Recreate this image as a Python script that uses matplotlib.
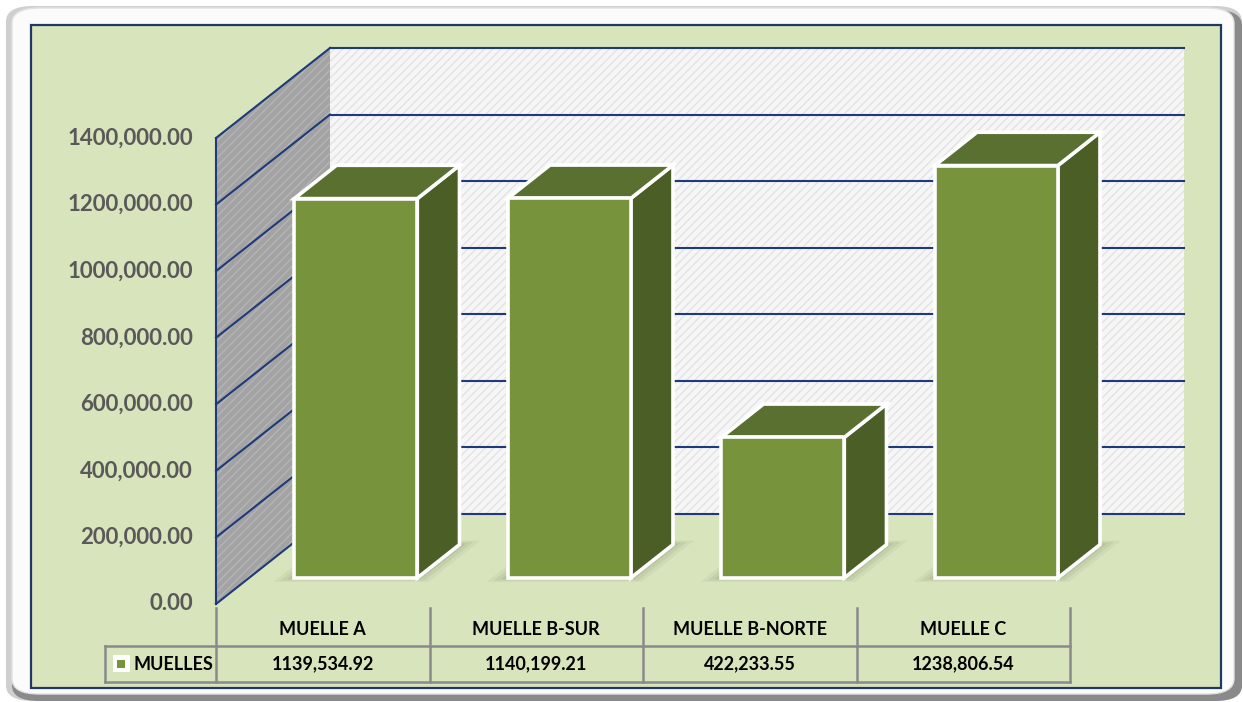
import matplotlib.pyplot as plt
from matplotlib.patches import Polygon, Rectangle, FancyBboxPatch
from matplotlib.transforms import blended_transform_factory

# data
categories = ['MUELLE A', 'MUELLE B-SUR', 'MUELLE B-NORTE', 'MUELLE C']
values = [1139534.92, 1140199.21, 422233.55, 1238806.54]
series_name = 'MUELLES'
yticks = [0, 200000, 400000, 600000, 800000, 1000000, 1200000, 1400000]


def fmt(v):
    # Excel's odd format: only the last thousands group is separated
    if v < 1000:
        return f"{v:.2f}"
    th = int(v) // 1000
    return f"{th},{v - th * 1000:06.2f}"


W, H = 1243, 702
plt.rcParams['font.family'] = ['Lato', 'DejaVu Sans']
fig = plt.figure(figsize=(W / 100, H / 100), dpi=100)
ax = fig.add_axes([0, 0, 1, 1])
ax.axis('off')

# pixel scale of the plot area
x_left_px, cat_px = 216, 213.5
y0_px, top_px = 604, 138
vpp = yticks[-1] / (y0_px - top_px)
ax.set_xlim(-0.5 - x_left_px / cat_px, -0.5 + (W - x_left_px) / cat_px)
ax.set_ylim(-(H - y0_px) * vpp, y0_px * vpp)

# depth offsets (3D look)
DX = 114 / cat_px
DY = 90 * vpp


def P(x, y, z):
    return (x + z * DX, y + z * DY)


def fr(x, y):
    return (x / W, 1 - y / H)


def rbox(x0, y0, x1, y1, **kw):
    ax.add_patch(FancyBboxPatch(fr(x0, y1), (x1 - x0) / W, (y1 - y0) / H,
                                boxstyle='round,pad=0,rounding_size=0.022',
                                transform=ax.transAxes, **kw))


# frame and panel
rbox(6, 6, 1242, 701, fc='#cfcfcf', ec='none', zorder=0)
rbox(12, 10, 1242, 701, fc='#8a8a8a', ec='none', zorder=0.2)
rbox(12, 8, 1234, 694, fc='#fbfbfb', ec='#e2e2e2', lw=1, zorder=0.5)
ax.add_patch(Rectangle(fr(31, 688), (1221 - 31) / W, (688 - 25) / H, transform=ax.transAxes,
                       fc='#d8e4bc', ec='#1f3864', lw=1.6, zorder=1))

n = len(categories)
top = yticks[-1]

# walls
back = Polygon([P(-0.5, 0, 1), P(n - 0.5, 0, 1), P(n - 0.5, top, 1), P(-0.5, top, 1)],
               closed=True, fc='#f6f6f6', ec='#e3e3e3', lw=0, hatch='////', zorder=2)
left = Polygon([P(-0.5, 0, 0), P(-0.5, 0, 1), P(-0.5, top, 1), P(-0.5, top, 0)],
               closed=True, fc='#a3a3a3', ec='#b5b5b5', lw=0, hatch='////', zorder=2)
ax.add_patch(back)
ax.add_patch(left)

grid_c = '#1f3a7a'
for t in yticks:
    (xa, ya), (xb, yb) = P(-0.5, t, 1), P(n - 0.5, t, 1)
    ax.plot([xa, xb], [ya, yb], color=grid_c, lw=1.5, zorder=3)
    (xa, ya), (xb, yb) = P(-0.5, t, 0), P(-0.5, t, 1)
    ax.plot([xa, xb], [ya, yb], color=grid_c, lw=1.5, zorder=3)
    ax.text(-0.5 - 23 / cat_px, t, fmt(t), ha='right', va='center',
            fontsize=16, fontweight='bold', color='#595959', zorder=5)
(xa, ya), (xb, yb) = P(-0.5, 0, 0), P(-0.5, top, 0)
ax.plot([xa, xb], [ya, yb], color=grid_c, lw=1.5, zorder=3)

# bars
hw, z0, z1 = 0.288, 0.29, 0.66
for i, v in enumerate(values):
    # soft shadow on the floor around the footprint
    for e, a in ((0.075, 0.06), (0.05, 0.08), (0.025, 0.1)):
        ez = e * 0.6
        fp = [P(i - hw - e, 0, z0 - ez), P(i + hw + e, 0, z0 - ez),
              P(i + hw + e, 0, z1 + ez), P(i - hw - e, 0, z1 + ez)]
        ax.add_patch(Polygon(fp, closed=True, fc='#4a5540', ec='none', alpha=a, zorder=3.5))
    front = [P(i - hw, 0, z0), P(i + hw, 0, z0), P(i + hw, v, z0), P(i - hw, v, z0)]
    topf = [P(i - hw, v, z0), P(i + hw, v, z0), P(i + hw, v, z1), P(i - hw, v, z1)]
    side = [P(i + hw, 0, z0), P(i + hw, 0, z1), P(i + hw, v, z1), P(i + hw, v, z0)]
    for poly, c in ((side, '#4b5e26'), (topf, '#5a7030'), (front, '#77933c')):
        ax.add_patch(Polygon(poly, closed=True, fc=c, ec='white', lw=2.6,
                             joinstyle='miter', zorder=4))

# data table
tr = blended_transform_factory(ax.transData, ax.transAxes)
line_c = '#8a8a8a'
y_hdr_top, y_mid, y_bot = 1 - 608 / H, 1 - 646 / H, 1 - 682 / H
legend_left = -0.5 - (216 - 105) / cat_px
for b in range(n + 1):
    ax.plot([b - 0.5, b - 0.5], [y_hdr_top, y_bot], transform=tr, color=line_c, lw=1.8, zorder=5)
ax.plot([legend_left, legend_left], [y_mid, y_bot], transform=tr, color=line_c, lw=1.8, zorder=5)
for yy in (y_mid, y_bot):
    ax.plot([legend_left, n - 0.5], [yy, yy], transform=tr, color=line_c, lw=1.8, zorder=5)
for i, (c, v) in enumerate(zip(categories, values)):
    ax.text(i, (y_hdr_top + y_mid) / 2 - 0.004, c, transform=tr, ha='center', va='center',
            fontsize=13, fontweight='bold', color='black', zorder=6)
    ax.text(i, (y_mid + y_bot) / 2, fmt(v), transform=tr, ha='center', va='center',
            fontsize=13, fontweight='bold', color='black', zorder=6)
# legend key
kx = legend_left + 8 / cat_px
ax.add_patch(Rectangle((kx, 1 - 672 / H), 17 / cat_px, 17 / H, transform=tr,
                       fc='white', ec='none', zorder=6))
ax.add_patch(Rectangle((kx + 4.5 / cat_px, 1 - 667.5 / H), 8 / cat_px, 8 / H, transform=tr,
                       fc='#77933c', ec='none', zorder=7))
ax.text(kx + 21 / cat_px, (y_mid + y_bot) / 2, series_name, transform=tr, ha='left', va='center',
        fontsize=13, fontweight='bold', color='black', zorder=6)

fig.savefig('out.png', dpi=100)
